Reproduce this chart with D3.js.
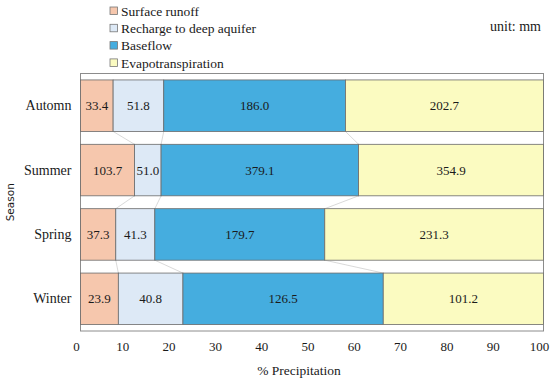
<!DOCTYPE html>
<html>
<head>
<meta charset="utf-8">
<script src="https://cdn.jsdelivr.net/npm/d3@7"></script>
<style>
  body { margin: 0; background: #fff; }
  svg text { font-family: "Liberation Serif", serif; fill: #1a1a1a; }
</style>
</head>
<body>
<div id="chart"></div>
<script>
// chart data (mm)
var seasons = ["Automn", "Summer", "Spring", "Winter"];
var seriesNames = ["Surface runoff", "Recharge to deep aquifer", "Baseflow", "Evapotranspiration"];
var surfaceRunoff = [33.4, 103.7, 37.3, 23.9];
var recharge = [51.8, 51.0, 41.3, 40.8];
var baseflow = [186.0, 379.1, 179.7, 126.5];
var evapo = [202.7, 354.9, 231.3, 101.2];
var xTicks = [0, 10, 20, 30, 40, 50, 60, 70, 80, 90, 100];

var colors = ["#f6c7ad", "#dde9f6", "#45addf", "#fbfbc1"];
var keys = ["runoff", "recharge", "baseflow", "evapo"];

// convert to % of precipitation per season
var rows = seasons.map(function(s, i) {
  var total = surfaceRunoff[i] + recharge[i] + baseflow[i] + evapo[i];
  return {
    season: s,
    runoff: surfaceRunoff[i] / total * 100,
    recharge: recharge[i] / total * 100,
    baseflow: baseflow[i] / total * 100,
    evapo: evapo[i] / total * 100,
    raw: [surfaceRunoff[i], recharge[i], baseflow[i], evapo[i]]
  };
});

var W = 550, H = 383;
var plotLeft = 80.5, plotRight = 543.5, plotTop = 73.5, plotBottom = 331;

var svg = d3.select('#chart').append('svg')
  .attr('width', W).attr('height', H);

var x = d3.scaleLinear().domain([0, 100]).range([plotLeft, plotRight]);
var y = d3.scaleBand().domain(seasons).range([plotTop, plotBottom])
  .paddingInner(0.2).paddingOuter(0.1);

var series = d3.stack().keys(keys)(rows);

// frame
svg.append('rect')
  .attr('x', plotLeft).attr('y', plotTop)
  .attr('width', plotRight - plotLeft).attr('height', plotBottom - plotTop)
  .attr('fill', 'none').attr('stroke', '#8c8c8c').attr('stroke-width', 1);

// series lines between adjacent bars
series.forEach(function(s) {
  if (s.key === 'evapo') return;
  for (var i = 0; i < s.length - 1; i++) {
    svg.append('line')
      .attr('x1', x(s[i][1])).attr('y1', y(seasons[i]) + y.bandwidth())
      .attr('x2', x(s[i + 1][1])).attr('y2', y(seasons[i + 1]))
      .attr('stroke', '#cfcfcf').attr('stroke-width', 0.8);
  }
});

// bars + value labels
series.forEach(function(s, k) {
  svg.append('g').selectAll('rect')
    .data(s).enter().append('rect')
    .attr('x', function(d) { return x(d[0]); })
    .attr('y', function(d) { return y(d.data.season); })
    .attr('width', function(d) { return x(d[1]) - x(d[0]); })
    .attr('height', y.bandwidth())
    .attr('fill', colors[k])
    .attr('stroke', '#6a6a6a').attr('stroke-width', 0.8);

  svg.append('g').selectAll('text')
    .data(s).enter().append('text')
    .attr('x', function(d) { return (x(d[0]) + x(d[1])) / 2; })
    .attr('y', function(d) { return y(d.data.season) + y.bandwidth() / 2; })
    .attr('dy', '0.35em')
    .attr('text-anchor', 'middle')
    .style('font-size', '13px')
    .text(function(d) { return d.data.raw[k].toFixed(1); });
});

// x axis
var xAxis = d3.axisBottom(x).tickValues(xTicks).tickSize(0).tickPadding(11);
var gx = svg.append('g').attr('transform', 'translate(0,' + plotBottom + ')').call(xAxis);
gx.select('.domain').remove();
gx.selectAll('text')
  .attr('dx', -4.5)
  .attr('fill', '#1a1a1a')
  .style('font-size', '13px').style('font-family', '"Liberation Serif", serif');

// y axis
var yAxis = d3.axisLeft(y).tickSize(0).tickPadding(9);
var gy = svg.append('g').attr('transform', 'translate(' + plotLeft + ',0)').call(yAxis);
gy.select('.domain').remove();
gy.selectAll('text')
  .attr('fill', '#1a1a1a')
  .style('font-size', '14px').style('font-family', '"Liberation Serif", serif');

// axis titles
svg.append('text')
  .attr('x', 299).attr('y', 375)
  .attr('text-anchor', 'middle')
  .style('font-size', '13.5px')
  .text('% Precipitation');

svg.append('text')
  .attr('transform', 'translate(14,' + (plotTop + plotBottom) / 2 + ') rotate(-90)')
  .attr('text-anchor', 'middle')
  .style('font-family', '"DejaVu Sans", sans-serif')
  .style('font-size', '10.5px')
  .text('Season');

// legend
var legend = svg.append('g').selectAll('g')
  .data(seriesNames).enter().append('g')
  .attr('transform', function(d, i) { return 'translate(110,' + (7 + i * 17.3) + ')'; });
legend.append('rect')
  .attr('width', 7.5).attr('height', 7.5)
  .attr('fill', function(d, i) { return colors[i]; })
  .attr('stroke', '#777').attr('stroke-width', 0.8);
legend.append('text')
  .attr('x', 11).attr('y', 4).attr('dy', '0.35em')
  .style('font-size', '13.5px')
  .text(function(d) { return d; });

svg.append('text')
  .attr('x', 541).attr('y', 31)
  .attr('text-anchor', 'end')
  .style('font-size', '14px')
  .text('unit: mm');
</script>
</body>
</html>
